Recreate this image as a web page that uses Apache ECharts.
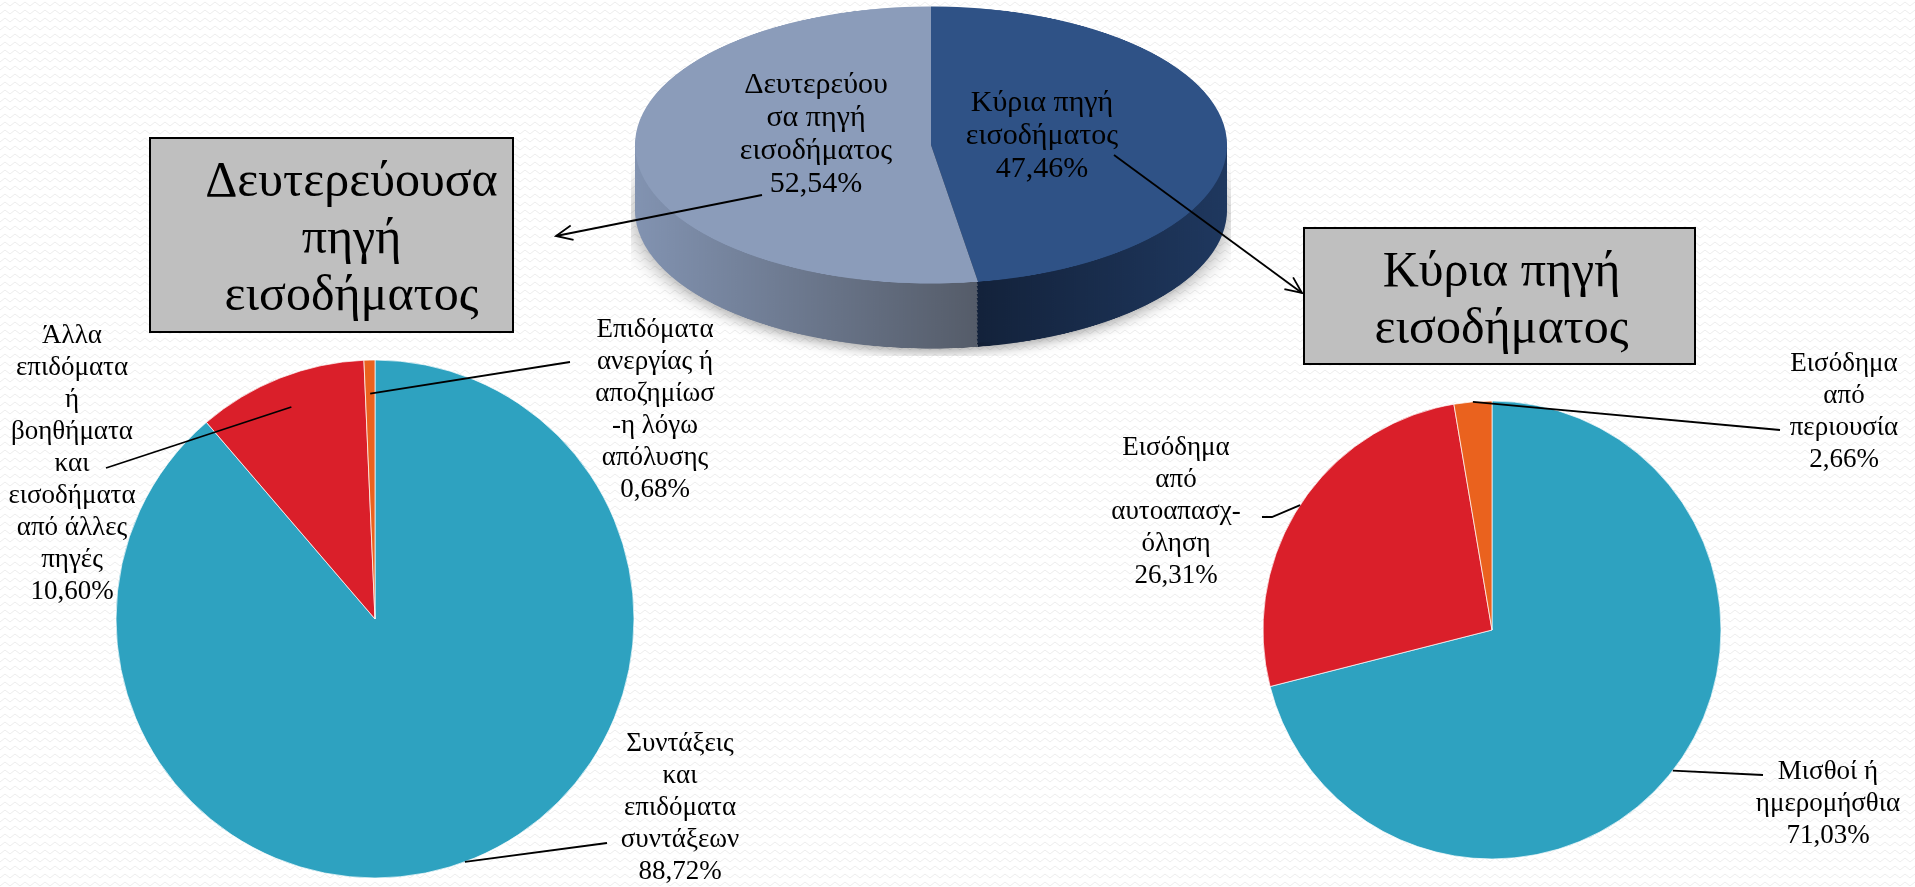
<!DOCTYPE html>
<html>
<head>
<meta charset="utf-8">
<title>Πηγή εισοδήματος</title>
<script src="https://cdn.jsdelivr.net/npm/echarts@6/dist/echarts.min.js"></script>
<style>
  html, body { margin: 0; width: 1915px; height: 887px; overflow: hidden; }
  body {
    background-color: #fff;
    background-image: url("data:image/svg+xml,%3Csvg xmlns='http://www.w3.org/2000/svg' width='10' height='8'%3E%3Cpath d='M0 6 L5 2 L10 6' fill='none' stroke='%23ececec' stroke-width='1'/%3E%3C/svg%3E");
  }
  /* κορυφαία πίτα: κύκλος πιεσμένος κάθετα για εφέ 3Δ */
  #top { position: absolute; left: 631px; top: 0; width: 600px; height: 760px;
         transform: scaleY(0.468); transform-origin: 0 0; }
  #main { position: absolute; left: 0; top: 0; width: 1915px; height: 887px; }
</style>
</head>
<body>
<div id="top"></div>
<div id="main"></div>
<script>
// Πηγή εισοδήματος (σύνολο)
const topNames = ['Κύρια πηγή\nεισοδήματος', 'Δευτερεύου\nσα πηγή\nεισοδήματος']
const topValues = [47.46, 52.54]

// Δευτερεύουσα πηγή εισοδήματος
const leftNames = [
  'Συντάξεις\nκαι\nεπιδόματα\nσυντάξεων',
  'Άλλα\nεπιδόματα\nή\nβοηθήματα\nκαι\nεισοδήματα\nαπό άλλες\nπηγές',
  'Επιδόματα\nανεργίας ή\nαποζημίωσ\n-η λόγω\nαπόλυσης'
]
const leftValues = [88.72, 10.60, 0.68]

// Κύρια πηγή εισοδήματος
const rightNames = ['Μισθοί ή\nημερομήσθια', 'Εισόδημα\nαπό\nαυτοαπασχ-\nόληση', 'Εισόδημα\nαπό\nπεριουσία']
const rightValues = [71.03, 26.31, 2.66]

const boxTitles = ['Δευτερεύουσα\nπηγή\nεισοδήματος', 'Κύρια πηγή\nεισοδήματος']

// χρώματα
const TOP_FACE = ['#2f5286', '#8b9cba']
const TOP_SIDE = [['#111e34', '#1f385f'], ['#8293b1', '#555c69']]
const PIE_COLORS = ['#2ea2c0', '#da1f2a', '#ea621e']

const FONT = '"Liberation Serif", "DejaVu Serif", serif'
const fmt = v => v.toFixed(2).replace('.', ',') + '%'

// θέσεις ετικετών (κέντρο κειμένου) και γραμμές οδηγοί
const TOP_LABEL_POS = [[1042, 136], [816, 135]]
const LEFT_LABEL_POS = [[680, 808], [72, 464], [655, 410]]
const RIGHT_LABEL_POS = [[1828, 804], [1176, 512], [1844, 412]]
// inset: πόσο μέσα στη φέτα ξεκινά η γραμμή, to: σημεία προς την ετικέτα
const LEFT_GUIDES = [
  { inset: 1, to: [[607, 843]] },
  { inset: 0.88, to: [[106, 468]] },
  { inset: 0.87, to: [[570, 362]] }
]
const RIGHT_GUIDES = [
  { inset: 1, to: [[1763, 775]] },
  { inset: 1, to: [[1272, 517], [1262, 517]] },
  { inset: 1, to: [[1780, 430]] }
]

// ---------- κορυφαία πίτα (3Δ) ----------
const K = 0.468
const TOP_CY = 145 / K
const DEPTH = 65 / K
const LAYERS = 16

const grad = (a, b) => new echarts.graphic.LinearGradient(0, 0, 1, 0, [
  { offset: 0, color: a }, { offset: 1, color: b }
])

const topSeries = []
for (let j = LAYERS; j >= 1; j--) {
  topSeries.push({
    type: 'pie', silent: true, radius: 296, center: [300, TOP_CY + DEPTH * j / LAYERS],
    startAngle: 90, label: { show: false }, labelLine: { show: false },
    itemStyle: j === LAYERS ? { shadowBlur: 24, shadowColor: 'rgba(0,0,0,0.35)', shadowOffsetY: 8 } : {},
    data: topValues.map((v, i) => ({ value: v, name: topNames[i], itemStyle: { color: grad(TOP_SIDE[i][0], TOP_SIDE[i][1]) } }))
  })
}
topSeries.push({
  type: 'pie', silent: true, radius: 296, center: [300, TOP_CY], startAngle: 90,
  label: { show: false }, labelLine: { show: false },
  data: topValues.map((v, i) => ({ value: v, name: topNames[i], itemStyle: { color: TOP_FACE[i] } }))
})
const topChart = echarts.init(document.getElementById('top'))
topChart.setOption({ animation: false, series: topSeries })

// ---------- κύριο διάγραμμα ----------
const LABEL = {
  show: true, color: '#000', fontFamily: FONT, fontSize: 27, lineHeight: 32, align: 'center',
  formatter: p => p.name + '\n' + fmt(p.value)
}
const LABEL_LINE = { show: true, length: 12, length2: 12, lineStyle: { color: '#000', width: 1.8 } }

// γωνία μέσου της φέτας i (από πάνω, δεξιόστροφα)
function midAngle(values, i) {
  const total = values.reduce((s, v) => s + v, 0)
  const before = values.slice(0, i).reduce((s, v) => s + v, 0)
  return 2 * Math.PI * (before + values[i] / 2) / total
}

// δύο σειρές: η χρωματιστή πίτα και από πάνω διαφανής με ετικέτες (για να φαίνονται οι γραμμές μέσα στις φέτες)
function pieSeries(names, values, center, radius, pos, guides) {
  return [{
    type: 'pie', z: 1, center, radius, startAngle: 90, silent: true,
    label: { show: false }, labelLine: { show: false },
    itemStyle: { borderColor: 'rgba(255,255,255,0.7)', borderWidth: 1 },
    data: values.map((v, i) => ({ value: v, name: names[i], itemStyle: { color: PIE_COLORS[i] } }))
  }, {
    type: 'pie', z: 4, center, radius, startAngle: 90, silent: true, avoidLabelOverlap: false,
    label: LABEL, labelLine: LABEL_LINE,
    labelLayout: p => {
      const i = p.dataIndex, a = midAngle(values, i), r = radius * guides[i].inset
      const start = [center[0] + r * Math.sin(a), center[1] - r * Math.cos(a)]
      return {
        x: pos[i][0], y: pos[i][1], align: 'center', verticalAlign: 'middle',
        labelLinePoints: [start, ...guides[i].to]
      }
    },
    itemStyle: { color: 'rgba(0,0,0,0)' },
    data: values.map((v, i) => ({ value: v, name: names[i] }))
  }]
}

function box(x, y, w, h, text, dx) {
  return {
    type: 'group', children: [
      { type: 'rect', shape: { x, y, width: w, height: h }, style: { fill: '#bfbfbf', stroke: '#000', lineWidth: 2 } },
      { type: 'text', x: x + w / 2 + dx, y: y + h / 2 + 5,
        style: { text, fontFamily: FONT, fontSize: 50, lineHeight: 57, fill: '#000', align: 'center', verticalAlign: 'middle' } }
    ]
  }
}

function arrow(x1, y1, x2, y2) {
  const a = Math.atan2(y2 - y1, x2 - x1), L = 18, s = 0.42
  return {
    type: 'group', children: [
      { type: 'line', shape: { x1, y1, x2, y2 }, style: { stroke: '#000', lineWidth: 1.8 } },
      { type: 'polyline', shape: { points: [
        [x2 - L * Math.cos(a - s), y2 - L * Math.sin(a - s)], [x2, y2],
        [x2 - L * Math.cos(a + s), y2 - L * Math.sin(a + s)]
      ] }, style: { stroke: '#000', lineWidth: 1.8, fill: null } }
    ]
  }
}

const chart = echarts.init(document.getElementById('main'))
chart.setOption({
  animation: false,
  graphic: [
    box(150, 138, 363, 194, boxTitles[0], 20),
    box(1304, 228, 391, 136, boxTitles[1], 2),
    arrow(762, 195, 556, 236),
    arrow(1114, 155, 1302, 293)
  ],
  series: [
    {
      // ετικέτες της κορυφαίας πίτας
      type: 'pie', silent: true, center: [931, 145], radius: [0, 222], startAngle: 90,
      label: { show: true, position: 'inside', color: '#000', fontFamily: FONT, fontSize: 30, lineHeight: 33,
               formatter: p => p.name + '\n' + fmt(p.value) },
      labelLayout: p => ({ x: TOP_LABEL_POS[p.dataIndex][0], y: TOP_LABEL_POS[p.dataIndex][1], align: 'center', verticalAlign: 'middle' }),
      labelLine: { show: false },
      itemStyle: { color: 'rgba(0,0,0,0)' },
      data: topValues.map((v, i) => ({ value: v, name: topNames[i] }))
    },
    ...pieSeries(leftNames, leftValues, [375, 619], 259, LEFT_LABEL_POS, LEFT_GUIDES),
    ...pieSeries(rightNames, rightValues, [1492, 630], 229, RIGHT_LABEL_POS, RIGHT_GUIDES)
  ]
})

window.addEventListener('resize', () => { chart.resize(); topChart.resize() })
</script>
</body>
</html>
